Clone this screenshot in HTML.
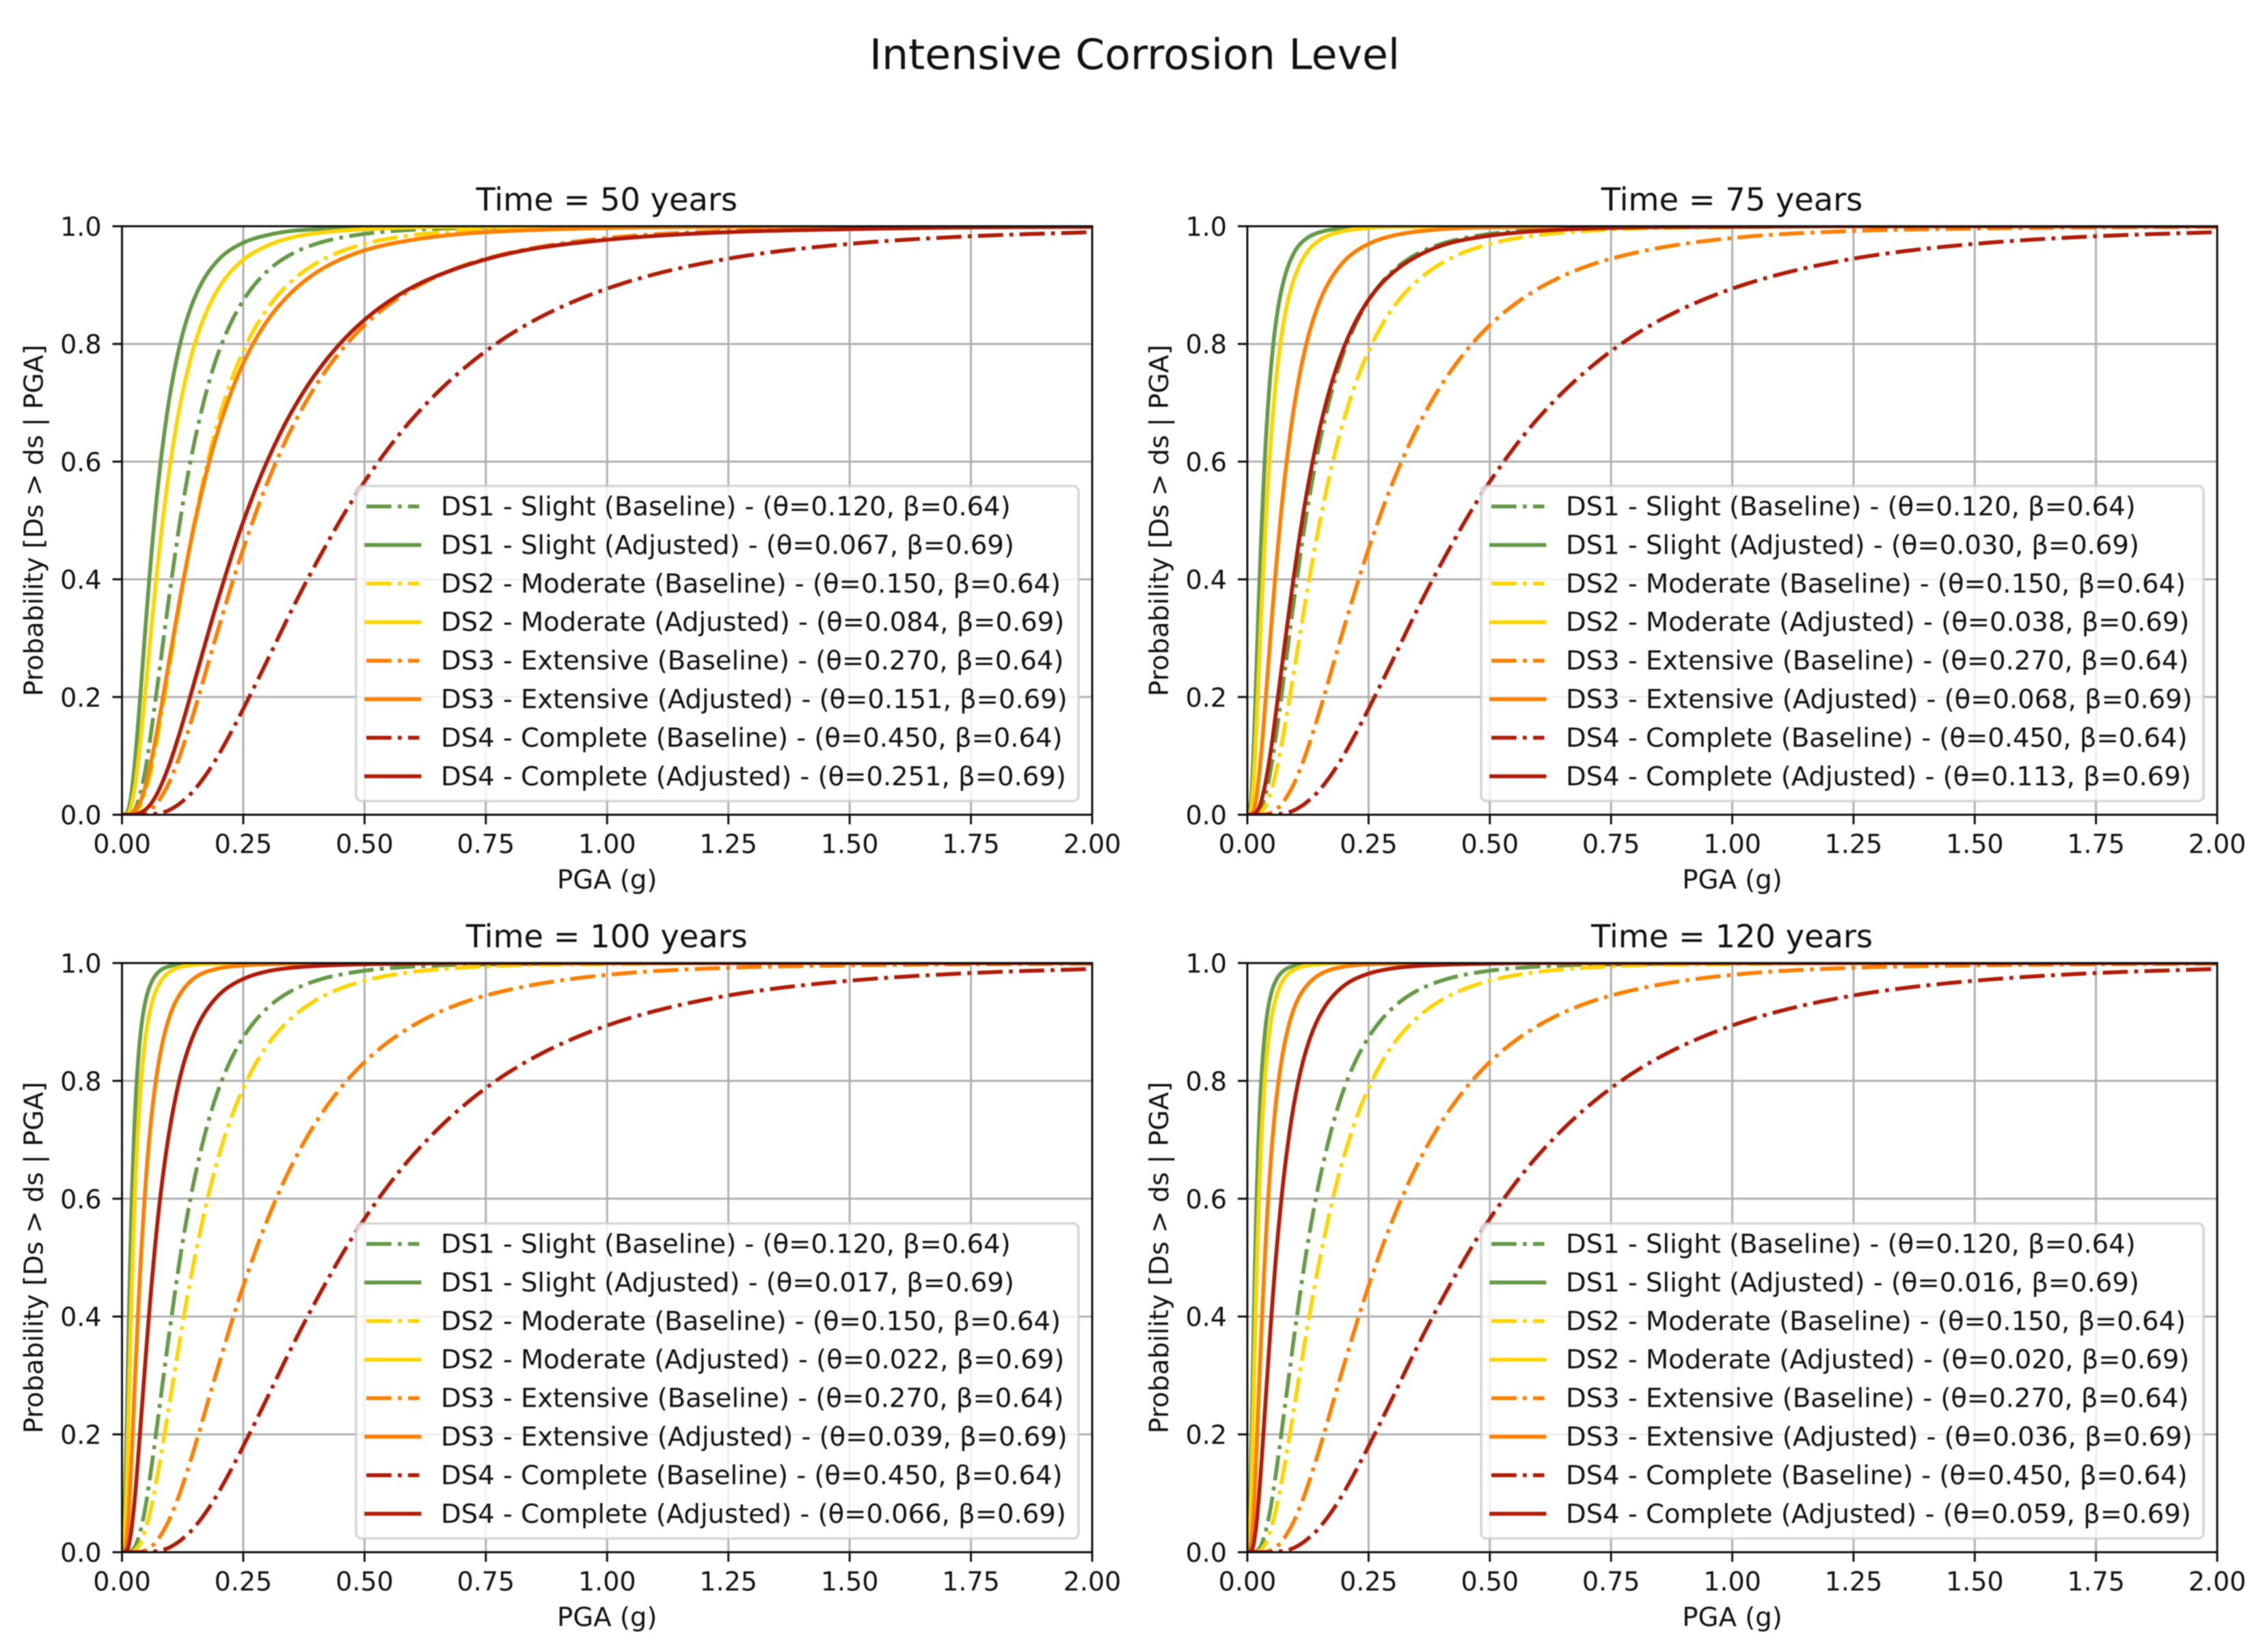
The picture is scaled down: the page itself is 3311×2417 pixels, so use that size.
<!DOCTYPE html>
<html lang="en">
<head>
<meta charset="utf-8">
<title>Intensive Corrosion Level</title>
<style>
html,body{margin:0;padding:0;background:#fff;width:3311px;height:2417px;overflow:hidden}
svg{display:block;filter:blur(0.7px)}
text{font-family:"DejaVu Sans",sans-serif;fill:#111}
</style>
</head>
<body>
<svg id="figure" xmlns="http://www.w3.org/2000/svg" width="3311" height="2417" viewBox="0 0 3311 2417">
<text x="1660" y="101" font-size="61.6" text-anchor="middle">Intensive Corrosion Level</text>
</svg>
<script>
// PGA sample values (g) shared by every series
const pga = [0,0.005,0.01,0.015,0.02,0.03,0.04,0.05,0.06,0.08,0.1,0.125,0.15,0.2,0.25,0.3,0.35,0.4,0.5,0.6,0.7,0.8,1,1.25,1.5,1.75,2];

// Baseline curves (same in all panels)
const baseDS1 = [0,0,0,.001,.003,.015,.043,.085,.140,.263,.387,.526,.636,.788,.874,.924,.953,.970,.987,.994,.997,.998,1,1,1,1,1];
const baseDS2 = [0,0,0,0,.001,.006,.019,.043,.076,.163,.263,.388,.5,.674,.788,.861,.907,.937,.970,.985,.992,.996,.998,1,1,1,1];
const baseDS3 = [0,0,0,0,0,0,.001,.004,.009,.029,.060,.114,.179,.320,.452,.565,.657,.730,.832,.894,.932,.955,.980,.992,.996,.998,.999];
const baseDS4 = [0,0,0,0,0,0,0,0,.001,.003,.009,.023,.043,.103,.180,.263,.348,.427,.566,.674,.755,.816,.894,.945,.970,.983,.990];

// Adjusted curves, Time = 50 years
const t50DS1 = [0,0,.003,.015,.040,.122,.227,.335,.437,.601,.719,.817,.879,.944,.972,.985,.992,.995,.998,.999,1,1,1,1,1,1,1];
const t50DS2 = [0,0,.001,.006,.019,.068,.141,.226,.313,.472,.600,.718,.800,.896,.943,.967,.981,.988,.995,.998,.999,.999,1,1,1,1,1];
const t50DS3 = [0,0,0,0,.002,.010,.027,.054,.090,.178,.275,.392,.496,.658,.767,.840,.888,.921,.959,.977,.987,.992,.997,.999,1,1,1];
const t50DS4 = [0,0,0,0,0,.001,.004,.010,.019,.049,.091,.156,.228,.371,.498,.602,.685,.750,.841,.897,.931,.954,.977,.990,.995,.998,.999];

// Adjusted curves, Time = 75 years
const t75DS1 = [0,.005,.056,.158,.279,.5,.662,.771,.843,.922,.960,.981,.990,.997,.999,1,1,1,1,1,1,1,1,1,1,1,1];
const t75DS2 = [0,.002,.026,.089,.176,.366,.529,.654,.746,.860,.919,.958,.977,.992,.997,.999,.999,1,1,1,1,1,1,1,1,1,1];
const t75DS3 = [0,0,.003,.014,.038,.118,.221,.328,.428,.593,.712,.811,.874,.941,.970,.984,.991,.995,.998,.999,1,1,1,1,1,1,1];
const t75DS4 = [0,0,0,.002,.006,.027,.066,.118,.180,.308,.429,.558,.659,.796,.875,.921,.949,.967,.984,.992,.996,.998,.999,1,1,1,1];

// Adjusted curves, Time = 100 years
const t100DS1 = [0,.038,.221,.428,.593,.795,.893,.941,.966,.988,.995,.998,.999,1,1,1,1,1,1,1,1,1,1,1,1,1,1];
const t100DS2 = [0,.016,.127,.289,.445,.673,.807,.883,.927,.969,.986,.994,.997,.999,1,1,1,1,1,1,1,1,1,1,1,1,1];
const t100DS3 = [0,.001,.024,.083,.167,.352,.514,.640,.734,.851,.914,.954,.975,.991,.996,.998,.999,1,1,1,1,1,1,1,1,1,1];
const t100DS4 = [0,0,.003,.016,.042,.126,.234,.343,.445,.610,.726,.823,.883,.946,.973,.986,.992,.995,.998,.999,1,1,1,1,1,1,1];

// Adjusted curves, Time = 120 years
const t120DS1 = [0,.046,.248,.463,.627,.819,.908,.951,.972,.990,.996,.999,.999,1,1,1,1,1,1,1,1,1,1,1,1,1,1];
const t120DS2 = [0,.022,.158,.338,.5,.721,.842,.908,.944,.978,.990,.996,.998,1,1,1,1,1,1,1,1,1,1,1,1,1,1];
const t120DS3 = [0,.002,.032,.102,.197,.395,.560,.683,.771,.876,.931,.964,.981,.994,.998,.999,1,1,1,1,1,1,1,1,1,1,1];
const t120DS4 = [0,0,.005,.024,.058,.163,.286,.405,.510,.670,.778,.862,.912,.962,.982,.991,.995,.997,.999,1,1,1,1,1,1,1,1];

// Axis tick labels
const xTickLabels = ['0.00','0.25','0.50','0.75','1.00','1.25','1.50','1.75','2.00'];
const yTickLabels = ['0.0','0.2','0.4','0.6','0.8','1.0'];

// Legend text per panel
const legend50 = ['DS1 - Slight (Baseline) - (θ=0.120, β=0.64)','DS1 - Slight (Adjusted) - (θ=0.067, β=0.69)','DS2 - Moderate (Baseline) - (θ=0.150, β=0.64)','DS2 - Moderate (Adjusted) - (θ=0.084, β=0.69)','DS3 - Extensive (Baseline) - (θ=0.270, β=0.64)','DS3 - Extensive (Adjusted) - (θ=0.151, β=0.69)','DS4 - Complete (Baseline) - (θ=0.450, β=0.64)','DS4 - Complete (Adjusted) - (θ=0.251, β=0.69)'];
const legend75 = ['DS1 - Slight (Baseline) - (θ=0.120, β=0.64)','DS1 - Slight (Adjusted) - (θ=0.030, β=0.69)','DS2 - Moderate (Baseline) - (θ=0.150, β=0.64)','DS2 - Moderate (Adjusted) - (θ=0.038, β=0.69)','DS3 - Extensive (Baseline) - (θ=0.270, β=0.64)','DS3 - Extensive (Adjusted) - (θ=0.068, β=0.69)','DS4 - Complete (Baseline) - (θ=0.450, β=0.64)','DS4 - Complete (Adjusted) - (θ=0.113, β=0.69)'];
const legend100 = ['DS1 - Slight (Baseline) - (θ=0.120, β=0.64)','DS1 - Slight (Adjusted) - (θ=0.017, β=0.69)','DS2 - Moderate (Baseline) - (θ=0.150, β=0.64)','DS2 - Moderate (Adjusted) - (θ=0.022, β=0.69)','DS3 - Extensive (Baseline) - (θ=0.270, β=0.64)','DS3 - Extensive (Adjusted) - (θ=0.039, β=0.69)','DS4 - Complete (Baseline) - (θ=0.450, β=0.64)','DS4 - Complete (Adjusted) - (θ=0.066, β=0.69)'];
const legend120 = ['DS1 - Slight (Baseline) - (θ=0.120, β=0.64)','DS1 - Slight (Adjusted) - (θ=0.016, β=0.69)','DS2 - Moderate (Baseline) - (θ=0.150, β=0.64)','DS2 - Moderate (Adjusted) - (θ=0.020, β=0.69)','DS3 - Extensive (Baseline) - (θ=0.270, β=0.64)','DS3 - Extensive (Adjusted) - (θ=0.036, β=0.69)','DS4 - Complete (Baseline) - (θ=0.450, β=0.64)','DS4 - Complete (Adjusted) - (θ=0.059, β=0.69)'];

const panelTitles = ['Time = 50 years','Time = 75 years','Time = 100 years','Time = 120 years'];

// Styles and layout (not data)
const dsColors = ['#659A47','#FFD400','#FF7F00','#B01C08'];
const panelBoxes = [
  {l:178.5,r:1598,t:331,b:1192},{l:1825,r:3244,t:331,b:1192},
  {l:178.5,r:1598,t:1409,b:2271},{l:1825,r:3244,t:1409,b:2271}
];
const panelSeries = [
  [baseDS1,t50DS1,baseDS2,t50DS2,baseDS3,t50DS3,baseDS4,t50DS4],
  [baseDS1,t75DS1,baseDS2,t75DS2,baseDS3,t75DS3,baseDS4,t75DS4],
  [baseDS1,t100DS1,baseDS2,t100DS2,baseDS3,t100DS3,baseDS4,t100DS4],
  [baseDS1,t120DS1,baseDS2,t120DS2,baseDS3,t120DS3,baseDS4,t120DS4]
];
const panelLegends = [legend50,legend75,legend100,legend120];

const svg = document.getElementById('figure');
const NS = 'http://www.w3.org/2000/svg';
const LW = 5.75;
const DASH = [6.4*LW,1.6*LW,LW,1.6*LW].join(' ');
const SUBSTEPS = 12;

function mk(tag, attrs, parent, txt){
  const e = document.createElementNS(NS, tag);
  for (const k in attrs) e.setAttribute(k, attrs[k]);
  if (txt !== undefined) e.textContent = txt;
  parent.appendChild(e);
  return e;
}

// Smooth polyline through the data: cubic Hermite on log(PGA), mapped through the axis functions.
function curvePath(xVals, yVals, xScale, yScale){
  const us = [], ys = [];
  for (let i=1;i<xVals.length;i++){ us.push(Math.log(xVals[i])); ys.push(yVals[i]); }
  const n = us.length, d = [], m = new Array(n);
  for (let i=0;i<n-1;i++) d[i] = (ys[i+1]-ys[i])/(us[i+1]-us[i]);
  m[0] = d[0]; m[n-1] = d[n-2];
  for (let i=1;i<n-1;i++){
    if (d[i-1]*d[i] <= 0) m[i] = 0;
    else {
      const h0 = us[i]-us[i-1], h1 = us[i+1]-us[i];
      const s = (h1*d[i-1]+h0*d[i])/(h0+h1);
      const lim = 3*Math.min(Math.abs(d[i-1]),Math.abs(d[i]));
      m[i] = Math.sign(s)*Math.min(Math.abs(s),lim);
    }
  }
  let p = 'M'+xScale(xVals[0]).toFixed(2)+' '+yScale(yVals[0]).toFixed(2);
  for (let i=0;i<n-1;i++){
    const h = us[i+1]-us[i];
    for (let k=1;k<=SUBSTEPS;k++){
      const t = k/SUBSTEPS, t2 = t*t, t3 = t2*t;
      const v = (2*t3-3*t2+1)*ys[i] + (t3-2*t2+t)*h*m[i] + (-2*t3+3*t2)*ys[i+1] + (t3-t2)*h*m[i+1];
      const x = Math.exp(us[i]+t*h);
      p += 'L'+xScale(x).toFixed(2)+' '+yScale(v).toFixed(2);
    }
  }
  return p;
}

panelBoxes.forEach(function(box, pi){
  const xScale = v => box.l + (v/2)*(box.r-box.l);
  const yScale = v => box.b - v*(box.b-box.t);
  const g = mk('g', {}, svg);
  
  

  const clip = mk('clipPath', {id:'clip'+pi}, g);
  mk('rect', {x:box.l,y:box.t,width:box.r-box.l,height:box.b-box.t}, clip);

  const title = mk('text', {x:(box.l+box.r)/2-0.5,y:box.t-23,'font-size':46.3,'text-anchor':'middle'}, g, panelTitles[pi]);
  
  

  // grid and ticks
  xTickLabels.forEach(function(lbl){
    const x = xScale(parseFloat(lbl));
    const gl = mk('line', {x1:x,x2:x,y1:box.t,y2:box.b,stroke:'#b0b0b0','stroke-width':3}, g);
    
    
  });
  yTickLabels.forEach(function(lbl){
    const y = yScale(parseFloat(lbl));
    const gl = mk('line', {x1:box.l,x2:box.r,y1:y,y2:y,stroke:'#b0b0b0','stroke-width':3}, g);
    
    
  });

  // series
  const lines = mk('g', {'clip-path':'url(#clip'+pi+')'}, g);
  
  
  panelSeries[pi].forEach(function(vals, si){
    const attrs = {d:curvePath(pga,vals,xScale,yScale),fill:'none',stroke:dsColors[Math.floor(si/2)],'stroke-width':LW,'stroke-linejoin':'round'};
    if (si%2===0) attrs['stroke-dasharray'] = DASH;
    const path = mk('path', attrs, lines);
    
    
  });

  // spines
  const frame = mk('rect', {x:box.l,y:box.t,width:box.r-box.l,height:box.b-box.t,fill:'none',stroke:'#111','stroke-width':3}, g);
  
  

  // tick marks and labels
  xTickLabels.forEach(function(lbl){
    const x = xScale(parseFloat(lbl));
    const t = mk('line', {x1:x,x2:x,y1:box.b,y2:box.b+14,stroke:'#111','stroke-width':3}, g);
    
    
    const tl = mk('text', {x:x,y:box.b+56,'font-size':38,'text-anchor':'middle'}, g, lbl);
    
    
  });
  yTickLabels.forEach(function(lbl){
    const y = yScale(parseFloat(lbl));
    const t = mk('line', {x1:box.l-14,x2:box.l,y1:y,y2:y,stroke:'#111','stroke-width':3}, g);
    
    
    const tl = mk('text', {x:box.l-30,y:y+14,'font-size':38,'text-anchor':'end'}, g, lbl);
    
    
  });

  // axis titles
  const xl = mk('text', {x:(box.l+box.r)/2,y:box.b+108,'font-size':38.6,'text-anchor':'middle'}, g, 'PGA (g)');
  
  
  const cy = (box.t+box.b)/2, lx = box.l-116;
  const yl = mk('text', {x:lx,y:cy,'font-size':38.6,'text-anchor':'middle',transform:'rotate(-90 '+lx+' '+cy+')'}, g, 'Probability [Ds > ds | PGA]');
  
  

  // legend
  const lg = mk('g', {}, g);
  
  
  const lgLeft = box.r-1075, lgRight = box.r-20, lgBottom = box.b-20, lgTop = lgBottom-461;
  const frameRect = mk('rect', {x:lgLeft-2,y:lgTop,width:lgRight-lgLeft+2,height:lgBottom-lgTop,rx:8,ry:8,fill:'rgba(255,255,255,0.8)',stroke:'rgba(204,204,204,0.8)','stroke-width':3.5}, lg);
  
  
  panelLegends[pi].forEach(function(label, i){
    const rowY = lgTop + 30 + i*56.4;
    const attrs = {x1:lgLeft+13,x2:lgLeft+13+77.5,y1:rowY,y2:rowY,stroke:dsColors[Math.floor(i/2)],'stroke-width':LW};
    if (i%2===0) attrs['stroke-dasharray'] = DASH; else attrs['stroke-linecap'] = 'square';
    const h = mk('line', attrs, lg);
    
    
    const tx = mk('text', {x:lgLeft+122,y:rowY+13,'font-size':38.5}, lg, label);
    
    
  });
});
</script>
</body>
</html>
